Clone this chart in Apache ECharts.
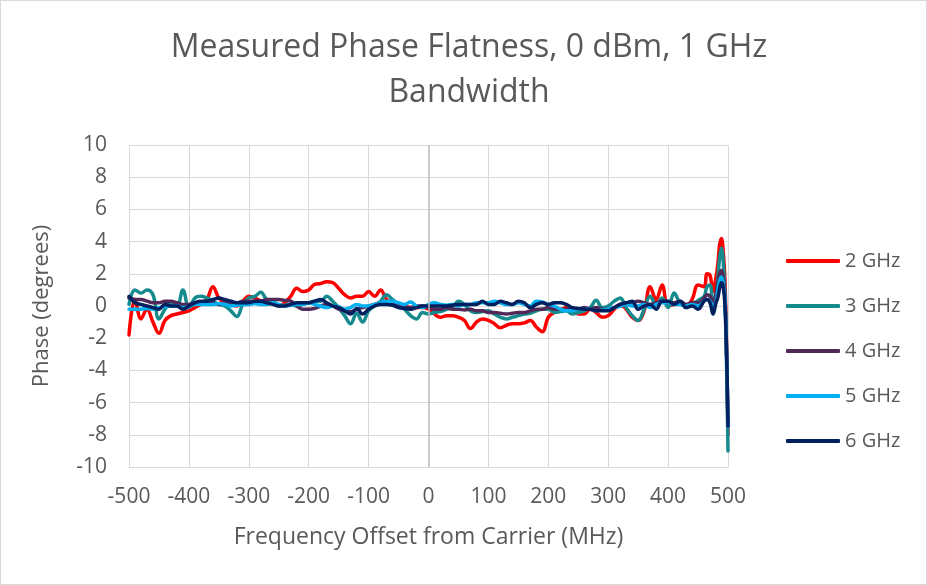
<!DOCTYPE html>
<html>
<head>
<meta charset="utf-8">
<script src="https://cdn.jsdelivr.net/npm/echarts@6/dist/echarts.min.js"></script>
<style>
html,body{margin:0;padding:0;background:#fff;}
#c{width:925px;height:583px;border:1px solid #d9d9d9;}
</style>
</head>
<body>
<div id="c"></div>
<script>
const freq = [
 -500,-490,-480,-470,-460,-450,-440,-430,-420,-410,
 -400,-390,-380,-370,-360,-350,-340,-330,-320,-310,
 -300,-290,-280,-270,-260,-250,-240,-230,-220,-210,
 -200,-190,-180,-170,-160,-150,-140,-130,-120,-110,
 -100,-90,-80,-70,-60,-50,-40,-30,-20,-10,
 0,10,20,30,40,50,60,70,80,90,
 100,110,120,130,140,150,160,170,180,190,
 200,210,220,230,240,250,260,270,280,290,
 300,310,320,330,340,350,360,370,380,390,
 400,410,420,430,440,450,460,465,470,475,
 480,483,486,489,492,495,498,500
];
const ghz2 = [
 -1.8,0.4,-0.8,-0.2,-1.0,-1.7,-0.9,-0.6,-0.5,-0.4,
 -0.3,-0.1,0.1,0.4,1.2,0.5,0.2,0.1,0.0,0.3,
 0.6,0.5,0.3,0.2,0.3,0.0,0.2,0.6,1.1,0.9,
 1.0,1.35,1.4,1.5,1.45,1.1,0.7,0.5,0.6,0.6,
 0.9,0.6,1.0,0.4,0.2,0.1,0.0,-0.1,-0.1,-0.1,
 -0.2,-0.5,-0.7,-0.6,-0.6,-0.7,-0.9,-1.4,-1.0,-0.8,
 -0.9,-1.1,-1.35,-1.2,-1.1,-1.1,-1.05,-0.9,-1.3,-1.6,
 -0.7,-0.4,-0.3,-0.1,-0.15,-0.5,-0.5,-0.2,-0.4,-0.7,
 -0.6,-0.2,0.1,-0.2,-0.7,-0.9,-0.3,1.2,0.4,1.3,
 0.0,0.1,0.2,0.0,0.4,1.3,1.2,2.0,1.9,0.9,
 1.8,2.6,3.8,4.2,3.4,1.5,-3.5,-8.0
];
const ghz3 = [
 0.1,1.0,0.8,1.0,0.7,-0.8,-0.2,0.2,0.0,1.0,
 -0.1,0.5,0.6,0.5,0.3,0.1,0.0,-0.3,-0.65,0.1,
 0.5,0.6,0.85,0.4,0.3,0.0,0.05,0.1,0.0,0.1,
 0.2,0.3,0.3,0.6,0.3,-0.1,-0.6,-1.1,-0.45,-1.0,
 -0.3,0.0,0.3,0.7,0.4,0.1,-0.2,-0.6,-0.8,-0.4,
 -0.5,-0.4,-0.35,-0.2,-0.1,0.3,0.1,-0.3,-0.4,-0.35,
 -0.3,-0.5,-0.7,-0.8,-0.7,-0.6,-0.5,-0.45,-0.3,-0.2,
 -0.2,-0.4,-0.35,-0.3,-0.5,-0.4,-0.3,-0.1,0.35,-0.1,
 0.0,0.3,0.5,-0.1,-0.6,-0.9,-0.2,0.6,0.1,0.5,
 -0.1,0.8,0.2,0.0,0.1,0.35,0.6,1.2,1.3,0.3,
 0.6,1.7,3.0,3.6,2.8,0.5,-4.5,-9.0
];
const ghz4 = [
 0.5,0.4,0.4,0.3,0.2,0.2,0.3,0.3,0.2,0.1,
 0.1,0.2,0.2,0.2,0.2,0.1,0.2,0.2,0.2,0.3,
 0.3,0.3,0.3,0.4,0.4,0.4,0.35,0.3,0.0,-0.2,
 -0.2,-0.15,0.0,0.1,0.0,-0.2,-0.3,-0.35,-0.2,-0.1,
 0.0,0.1,0.2,0.2,0.1,0.0,-0.1,-0.1,0.0,0.0,
 -0.1,-0.2,-0.2,-0.1,-0.2,-0.2,-0.25,-0.2,-0.3,-0.3,
 -0.4,-0.4,-0.45,-0.5,-0.45,-0.4,-0.4,-0.3,-0.2,-0.2,
 -0.1,-0.2,-0.2,-0.2,-0.2,-0.2,-0.1,-0.2,-0.1,-0.2,
 -0.2,-0.1,0.0,0.1,0.2,0.3,0.2,0.1,0.2,0.3,
 0.2,0.2,0.3,0.1,0.2,0.2,0.5,0.7,0.6,0.2,
 0.8,1.4,2.0,2.2,1.8,0.6,-3.5,-7.5
];
const ghz5 = [
 -0.2,-0.2,-0.2,-0.15,-0.2,-0.1,-0.05,0.0,0.0,-0.1,
 -0.05,0.1,0.1,0.1,0.1,0.15,0.1,0.0,0.05,0.1,
 0.1,0.15,0.1,0.1,0.2,0.1,0.0,0.05,0.1,0.1,
 0.2,0.1,0.0,-0.1,0.0,-0.05,-0.2,-0.1,0.1,0.0,
 0.0,0.1,0.2,0.3,0.3,0.2,0.1,0.25,0.0,-0.1,
 0.1,0.2,0.1,0.05,0.1,0.0,0.1,0.1,0.2,0.2,
 0.2,0.3,0.2,0.1,0.1,0.2,0.1,0.0,0.3,0.25,
 0.1,0.0,-0.2,-0.3,-0.3,-0.2,-0.2,-0.2,-0.3,-0.25,
 -0.2,-0.1,0.0,0.1,0.0,0.0,0.1,-0.1,0.1,0.2,
 0.2,0.1,0.1,0.0,0.1,0.0,0.3,0.4,0.3,0.0,
 0.3,1.0,1.6,1.8,1.4,0.4,-3.5,-7.5
];
const ghz6 = [
 0.6,0.2,0.1,0.0,-0.1,-0.2,0.1,0.0,0.0,-0.2,
 0.0,0.2,0.3,0.3,0.4,0.5,0.4,0.3,0.2,0.2,
 0.2,0.3,0.3,0.2,0.1,0.0,0.0,0.1,0.2,0.2,
 0.2,0.3,0.4,0.2,0.0,-0.1,-0.3,-0.5,-0.15,-0.5,
 -0.2,0.0,0.1,0.1,0.05,-0.1,-0.15,-0.2,-0.1,0.0,
 0.0,0.0,0.0,0.0,0.05,0.1,0.1,0.1,0.1,0.3,
 0.1,0.1,0.3,0.2,0.1,0.3,0.2,-0.1,0.1,0.2,
 0.1,0.2,0.2,0.1,-0.1,-0.15,-0.2,-0.2,-0.3,-0.3,
 -0.3,-0.1,0.1,0.2,0.3,-0.2,0.0,0.1,-0.2,0.3,
 0.3,0.1,0.3,-0.1,0.0,-0.2,0.3,0.4,0.2,-0.5,
 0.2,0.5,1.1,1.45,1.2,0.0,-3.5,-7.45
];
const seriesNames = ['2 GHz','3 GHz','4 GHz','5 GHz','6 GHz'];
const seriesValues = [ghz2, ghz3, ghz4, ghz5, ghz6];
const seriesColors = ['#ff0000','#168b8e','#512858','#00b0f0','#002060'];

const FONT = '"Open Sans", sans-serif';
const GREY = '#595959';

const chart = echarts.init(document.getElementById('c'), null, {renderer:'canvas'});

const lineSeries = seriesNames.map((name, i) => ({
  name: name,
  type: 'line',
  smooth: 0.4,
  symbol: 'none',
  lineStyle: {width: 3.5, color: seriesColors[i], cap: 'round', join: 'round'},
  itemStyle: {color: seriesColors[i]},
  data: freq.map((f, k) => [f, seriesValues[i][k]])
}));

chart.setOption({
  animation: false,
  backgroundColor: '#ffffff',
  title: {
    text: 'Measured Phase Flatness, 0 dBm, 1 GHz\nBandwidth',
    left: 463, top: 19, textAlign: 'center',
    textStyle: {fontFamily: FONT, fontSize: 32, fontWeight: 'normal', color: GREY, lineHeight: 45}
  },
  legend: {
    orient: 'vertical',
    left: 785, top: 249, padding: 0,
    itemWidth: 54, itemHeight: 4, itemGap: 23,
    icon: 'roundRect',
    data: seriesNames,
    textStyle: {fontFamily: FONT, fontSize: 20, color: GREY, lineHeight: 22, padding: [0,0,0,0]}
  },
  grid: {left: 128, top: 144, width: 599, height: 322, containLabel: false},
  xAxis: {
    type: 'value', min: -500, max: 500, interval: 100,
    name: 'Frequency Offset from Carrier (MHz)', nameLocation: 'middle', nameGap: 59,
    nameTextStyle: {fontFamily: FONT, fontSize: 23, color: GREY},
    axisLine: {show: true, onZero: false, lineStyle: {color: '#d9d9d9', width: 1}},
    axisTick: {show: false},
    axisLabel: {fontFamily: FONT, fontSize: 21, color: GREY, margin: 20},
    splitLine: {show: true, lineStyle: {color: '#d9d9d9', width: 1}}
  },
  yAxis: {
    type: 'value', min: -10, max: 10, interval: 2,
    name: 'Phase (degrees)', nameLocation: 'middle', nameGap: 76, nameRotate: 90,
    nameTextStyle: {fontFamily: FONT, fontSize: 22, color: GREY},
    axisLine: {show: false},
    axisTick: {show: false},
    axisLabel: {fontFamily: FONT, fontSize: 21, color: GREY, margin: 22},
    splitLine: {show: true, lineStyle: {color: '#d9d9d9', width: 1}}
  },
  series: [{
    name: 'zeroLine', type: 'line', data: [], silent: true,
    markLine: {
      silent: true, symbol: ['none','none'], label: {show: false},
      lineStyle: {color: '#bfbfbf', width: 1.5, type: 'solid'},
      data: [{xAxis: 0}]
    }
  }].concat(lineSeries)
});
</script>
</body>
</html>
